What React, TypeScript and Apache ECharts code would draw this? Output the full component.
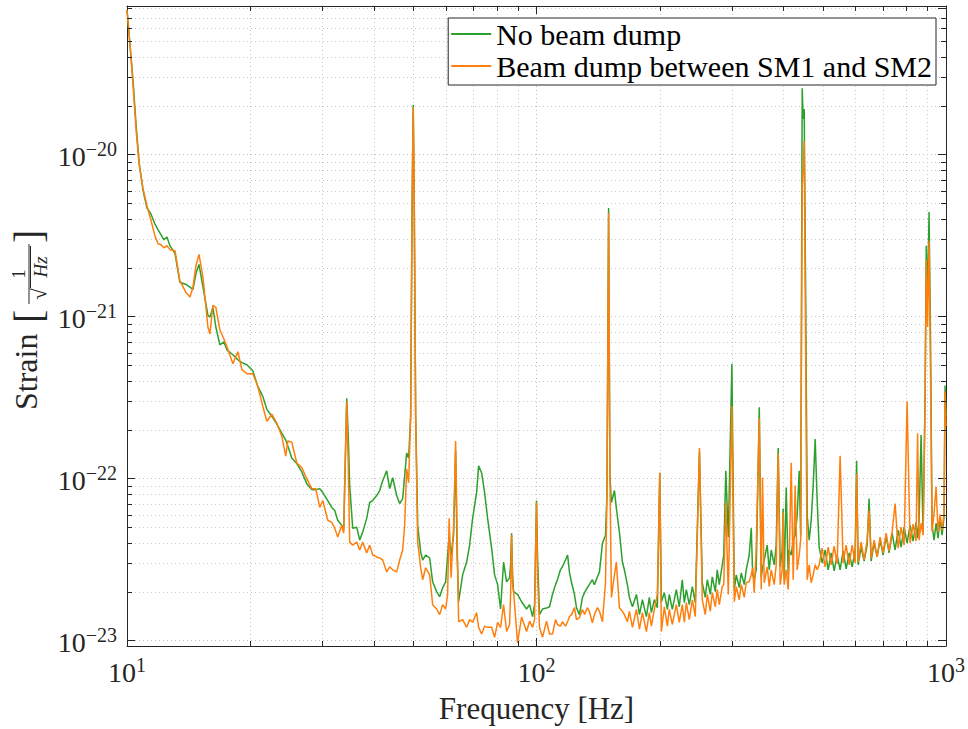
import { useEffect, useRef } from "react";
import * as echarts from "echarts";

// Strain amplitude spectral density, values in units of 1e-23 / sqrt(Hz)
const STRAIN_UNIT = 1e-23;

const freqs = [
  // 10 - 35 Hz
  10.0, 10.17, 10.34, 10.52, 10.7, 10.94, 11.19, 11.44, 11.7, 11.91,
  12.11, 12.31, 12.52, 12.73, 13.1, 13.46, 13.93, 14.25, 14.49, 14.74,
  14.99, 15.33, 15.76, 15.94, 16.21, 16.48, 16.86, 17.24, 17.54, 18.14,
  18.65, 19.08, 19.62, 20.29, 20.87, 21.46, 21.95, 22.57, 23.22, 23.88,
  24.42, 24.7, 25.26, 25.98, 26.72, 27.48, 28.26, 28.9, 29.56, 30.07,
  30.92, 31.62, 32.16, 32.7, 33.45, 33.82, 34.1, 34.4, 34.7, 34.98,
  35.58,
  // 36 - 106 Hz
  36.39, 37.01, 37.64, 38.49, 39.14, 39.81, 40.72, 41.41, 42.11, 43.07,
  43.8, 44.55, 45.56, 46.33, 47.12, 47.65, 48.19, 48.73, 49.28, 49.7,
  50.0, 50.28, 50.69, 51.27, 52.14, 52.73, 53.62, 54.84, 55.77, 57.04,
  58.01, 58.99, 60.0, 60.67, 61.19, 61.87, 62.75, 63.46, 64.0, 64.54,
  66.01, 67.51, 68.66, 69.82, 71.41, 72.22, 73.44, 74.69, 75.97, 77.69,
  79.01, 80.35, 81.71, 83.1, 84.52, 85.96, 86.44, 86.93, 87.42, 87.91,
  89.9, 91.94, 94.57, 96.18, 97.81, 98.91, 99.44, 100.0, 100.56, 101.7,
  103.43, 105.8,
  // 107 - 1000 Hz
  107.6, 109.4, 111.3, 112.5, 114.4, 115.7, 117.7, 119.1, 120.4, 121.8,
  123.8, 125.2, 127.3, 129.5, 131.0, 133.1, 134.6, 136.9, 138.5, 140.9,
  142.5, 144.9, 147.4, 148.6, 150.0, 151.1, 152.4, 155.0, 156.7, 158.0,
  159.4, 162.1, 163.9, 166.7, 168.6, 171.5, 175.4, 178.4, 181.4, 185.5,
  188.6, 190.8, 194.0, 197.3, 200.0, 201.8, 205.2, 208.7, 211.0, 214.6,
  219.5, 223.2, 227.0, 229.6, 232.2, 236.1, 240.2, 244.2, 250.0, 254.0,
  258.3, 261.3, 265.7, 268.7, 273.3, 276.3, 279.5, 284.2, 286.6, 289.9,
  294.0, 300.0, 304.1, 307.5, 312.7, 316.3, 321.6, 325.2, 330.7, 334.5,
  337.3, 340.1, 344.0, 350.0, 353.8, 356.4, 359.8, 365.9, 370.1, 374.3,
  380.6, 384.9, 389.2, 393.6, 398.1, 400.3, 402.6, 407.2, 411.8, 414.1,
  418.8, 423.5, 428.3, 433.1, 438.0, 441.7, 445.5, 448.0, 450.5, 454.3,
  458.2, 463.3, 468.6, 473.9, 479.2, 484.6, 490.1, 498.4, 506.9, 515.6,
  524.3, 533.2, 542.2, 551.4, 560.8, 570.4, 580.1, 589.9, 600.0, 605.0,
  610.1, 620.5, 631.0, 641.8, 649.0, 656.4, 667.5, 678.9, 690.4, 702.1,
  714.1, 726.2, 738.6, 751.1, 763.9, 776.9, 790.1, 803.5, 817.1, 831.0,
  845.2, 852.4, 859.6, 869.3, 879.1, 889.0, 895.0, 901.6, 909.2, 916.9,
  924.6, 935.1, 945.7, 956.4, 967.2, 978.1, 989.1, 994.7, 1000.0,
];

const noBeamDump = [
  7800, 4780, 2910, 1550, 906, 602, 468, 430, 373, 343,
  320, 298, 310, 274, 245, 163, 158, 152, 147, 185,
  210, 152, 102, 99.3, 114, 86.3, 66.9, 69.8, 62.4, 58.2,
  54.2, 52, 50.5, 46.4, 37.1, 32.2, 26.8, 24.3, 21.7, 19.1,
  17.3, 15.9, 13.4, 12.4, 11.0, 9.32, 8.56, 8.56, 8.68, 8.21,
  7.33, 6.65, 6.37, 5.54, 5.16, 4.81, 12.0, 31.3, 18.3, 9.06,
  4.95,
  5.02, 4.18, 4.68, 5.69, 7.13, 7.33, 7.87, 8.45, 9.72, 11.19,
  8.68, 10.14, 7.87, 7.03, 7.54, 10.43, 14.42, 13.4, 24.3, 538,
  2023, 538, 24.3, 5.16, 3.53, 3.15, 3.38, 3.24, 2.31, 2.01,
  1.87, 2.12, 2.31, 3.38, 4.48, 3.38, 4.48, 14.84, 3.38, 1.74,
  2.55, 3.06, 3.89, 5.69, 8.21, 12.0, 10.88, 8.21, 5.69, 3.73,
  2.55, 2.22, 1.57, 3.06, 2.31, 2.45, 2.94, 4.61, 2.55, 2.01,
  1.93, 1.74, 1.57, 1.67, 1.41, 1.67, 3.38, 7.33, 3.38, 1.45,
  1.57, 1.59,
  1.62, 1.93, 2.22, 2.38, 2.74, 2.86, 3.15, 3.38, 2.63, 2.28,
  1.93, 1.6, 1.45, 1.85, 1.98, 2.13, 2.22, 2.38, 2.22, 2.48,
  2.66, 4.0, 4.48, 7.87, 468, 10.43, 7.13, 8.45, 6.55, 5.54,
  4.68, 3.06, 2.74, 2.22, 1.85, 1.62, 1.93, 1.45, 1.79, 1.41,
  1.85, 1.49, 1.79, 1.6, 10.88, 1.74, 1.98, 1.56, 1.93, 1.56,
  2.07, 1.62, 2.38, 1.72, 2.07, 1.67, 2.16, 1.72, 14.63, 2.28,
  1.85, 2.38, 1.93, 2.48, 2.01, 2.74, 2.22, 2.94, 3.38, 11.19,
  4.36, 51.2, 2.07, 2.55, 2.13, 2.62, 2.22, 2.74, 3.38, 4.95,
  2.55, 2.38, 2.74, 27.6, 2.45, 2.82, 3.15, 3.89, 2.74, 3.63,
  2.94, 3.89, 15.48, 2.86, 3.63, 6.55, 2.38, 8.81, 2.55, 3.63,
  3.38, 4.18, 4.48, 5.94, 11.19, 4.48, 2565, 1660, 1910, 132,
  5.94, 4.18, 5.54, 9.06, 17.57, 7.33, 3.78, 3.02, 3.63, 2.74,
  3.48, 2.7, 3.38, 2.74, 3.58, 2.78, 3.48, 2.86, 3.63, 12.88,
  2.94, 3.78, 3.1, 3.89, 7.54, 3.1, 4.0, 3.29, 4.18, 3.38,
  4.42, 3.48, 4.61, 3.63, 4.81, 3.78, 5.02, 4.0, 5.16, 4.12,
  5.38, 4.3, 5.54, 18.58, 4.61, 32.2, 273.7, 132, 441.9, 65.1,
  5.16, 4.18, 5.31, 4.3, 5.69, 4.48, 5.78, 37.6, 24.3,
];

const beamDumpSM1SM2 = [
  7800, 4780, 2720, 1440, 880, 620, 481, 394, 315, 282,
  278, 266, 274, 259, 255, 167, 141, 132, 152, 207,
  242, 175, 86.3, 78.2, 117.6, 114, 82.7, 73, 65.1, 51.2,
  60.7, 47.1, 44.5, 44.5, 37.1, 28.0, 22.6, 25.0, 22.0, 18.3,
  13.8, 17.1, 16.8, 12.5, 11.7, 10.0, 8.68, 8.68, 6.65, 7.33,
  5.54, 5.38, 4.95, 4.36, 5.16, 4.61, 12.0, 30.0, 12.0, 4.06,
  3.89,
  4.06, 3.63, 4.06, 3.48, 3.89, 3.38, 3.29, 3.24, 3.15, 2.66,
  2.86, 2.74, 2.66, 3.15, 3.63, 5.16, 11.51, 9.45, 24.3, 538,
  1967, 538, 24.3, 4.06, 2.82, 2.38, 2.82, 2.55, 1.67, 1.57,
  1.45, 1.67, 1.57, 1.93, 5.69, 2.45, 5.16, 17.08, 4.48, 1.31,
  1.35, 1.21, 1.35, 1.3, 1.49, 1.21, 1.1, 1.23, 1.21, 1.21,
  1.05, 1.3, 1.21, 1.67, 1.14, 1.26, 1.93, 4.48, 2.22, 2.01,
  0.97, 1.4, 1.14, 1.32, 1.21, 1.35, 3.38, 7.13, 2.55, 1.21,
  1.05, 1.32,
  1.1, 1.1, 1.35, 1.26, 1.23, 1.31, 1.23, 1.31, 1.41, 1.45,
  1.6, 1.35, 1.39, 1.56, 1.45, 1.6, 1.52, 1.29, 1.45, 1.6,
  1.52, 1.31, 2.28, 7.87, 436, 10.43, 1.85, 2.55, 3.06, 2.22,
  1.6, 1.52, 1.45, 1.31, 1.52, 1.21, 1.56, 1.18, 1.49, 1.14,
  1.49, 1.23, 1.56, 1.93, 10.88, 1.14, 1.62, 1.23, 1.56, 1.26,
  1.67, 1.3, 1.67, 1.3, 1.72, 1.35, 1.79, 1.41, 15.48, 1.79,
  1.45, 1.93, 1.52, 1.98, 1.62, 2.07, 1.67, 2.16, 2.22, 7.13,
  1.93, 28.0, 1.74, 2.16, 1.79, 2.22, 1.85, 2.28, 2.31, 2.55,
  2.82, 1.98, 3.73, 23.6, 2.07, 10.14, 2.28, 2.86, 2.16, 2.74,
  2.22, 2.94, 14.23, 2.22, 2.74, 6.19, 2.22, 2.74, 2.07, 3.15,
  12.53, 2.38, 9.06, 2.74, 3.38, 4.18, 637, 822, 1218, 56.5,
  2.38, 2.94, 2.28, 2.55, 2.94, 2.74, 2.94, 3.73, 2.86, 3.78,
  2.94, 3.84, 2.98, 13.83, 3.02, 3.89, 2.94, 3.89, 3.02, 10.73,
  3.06, 4.06, 3.15, 4.18, 6.37, 3.24, 4.18, 3.29, 4.36, 3.48,
  4.61, 3.58, 4.71, 7.03, 3.73, 5.02, 3.89, 30.0, 4.0, 5.24,
  4.12, 19.1, 4.18, 5.31, 4.48, 28.0, 224.7, 86.3, 293.8, 42.7,
  4.71, 6.12, 8.93, 4.67, 6.03, 4.81, 6.12, 34.5, 21.1,
];

const seriesNames = ["No beam dump", "Beam dump between SM1 and SM2"];
const seriesColors = ["#2ca02c", "#ff7f0e"];

const X_MIN = 10;
const X_MAX = 1000;
const Y_MIN = 9.28e-24;
const Y_MAX = 8.26e-20;

const xMinorTicks = [20, 30, 40, 50, 60, 70, 80, 90, 200, 300, 400, 500, 600, 700, 800, 900];
const yMinorTicks = [
  2e-23, 3e-23, 4e-23, 5e-23, 6e-23, 7e-23, 8e-23, 9e-23,
  2e-22, 3e-22, 4e-22, 5e-22, 6e-22, 7e-22, 8e-22, 9e-22,
  2e-21, 3e-21, 4e-21, 5e-21, 6e-21, 7e-21, 8e-21, 9e-21,
  2e-20, 3e-20, 4e-20, 5e-20, 6e-20, 7e-20, 8e-20,
];

const FONT = "'Liberation Serif', 'Times New Roman', Times, serif";
const INK = "#262626";

const powLabel = (v: number) => {
  const e = Math.round(Math.log10(v));
  const s = e < 0 ? "\u2212" + -e : String(e);
  return `{b|10}{s|${s}}`;
};

const labelRich = {
  b: { fontFamily: FONT, fontSize: 28, lineHeight: 31, color: INK, verticalAlign: "bottom" },
  s: { fontFamily: FONT, fontSize: 20, lineHeight: 20, color: INK, verticalAlign: "top" },
};

export default function App() {
  const ref = useRef<HTMLDivElement>(null);

  useEffect(() => {
    if (!ref.current) return;
    const chart = echarts.init(ref.current, undefined, { renderer: "svg" });
    const n = Math.min(freqs.length, noBeamDump.length, beamDumpSM1SM2.length);
    const dataA: number[][] = [];
    const dataB: number[][] = [];
    for (let i = 0; i < n; i++) {
      dataA.push([freqs[i], noBeamDump[i] * STRAIN_UNIT]);
      dataB.push([freqs[i], beamDumpSM1SM2[i] * STRAIN_UNIT]);
    }

    const gridLine = { show: true, lineStyle: { color: "#bdbdbd", width: 1, type: [1, 3] } };
    const frameLine = { show: true, onZero: false, lineStyle: { color: INK, width: 1 } };
    const tick = { show: true, inside: true, length: 8, lineStyle: { color: INK, width: 1 } };

    const option: any = {
      animation: false,
      backgroundColor: "#ffffff",
      grid: { left: 127, right: 21, top: 6, bottom: 77, containLabel: false },
      legend: {
        data: seriesNames,
        orient: "vertical",
        right: 32,
        top: 18,
        icon: "rect",
        itemWidth: 40,
        itemHeight: 2,
        itemGap: 2,
        padding: [1, 4, 4, 3],
        backgroundColor: "#ffffff",
        borderColor: INK,
        borderWidth: 1,
        borderRadius: 0,
        textStyle: { fontFamily: FONT, fontSize: 30, color: "#000000" },
        selectedMode: false,
      },
      xAxis: [
        {
          type: "log",
          logBase: 10,
          min: X_MIN,
          max: X_MAX,
          position: "bottom",
          axisLine: frameLine,
          axisTick: tick,
          splitLine: gridLine,
          axisLabel: { formatter: powLabel, rich: labelRich, margin: 9, color: INK },
          name: "Frequency [Hz]",
          nameLocation: "middle",
          nameGap: 47,
          nameTextStyle: { fontFamily: FONT, fontSize: 31, color: INK, verticalAlign: "top" },
        },
        {
          type: "log",
          logBase: 10,
          min: X_MIN,
          max: X_MAX,
          position: "top",
          axisLine: frameLine,
          axisTick: tick,
          splitLine: { show: false },
          axisLabel: { show: false },
        },
      ],
      yAxis: [
        {
          type: "log",
          logBase: 10,
          min: Y_MIN,
          max: Y_MAX,
          position: "left",
          axisLine: frameLine,
          axisTick: tick,
          splitLine: gridLine,
          axisLabel: {
            formatter: powLabel,
            rich: labelRich,
            margin: 10,
            color: INK,
            showMinLabel: false,
            showMaxLabel: false,
          },
        },
        {
          type: "log",
          logBase: 10,
          min: Y_MIN,
          max: Y_MAX,
          position: "right",
          axisLine: frameLine,
          axisTick: tick,
          splitLine: { show: false },
          axisLabel: { show: false },
        },
      ],
      series: [
        {
          name: seriesNames[0],
          type: "line",
          data: dataA,
          xAxisIndex: 0,
          yAxisIndex: 0,
          showSymbol: false,
          symbol: "none",
          silent: true,
          clip: true,
          z: 2,
          color: seriesColors[0],
          lineStyle: { color: seriesColors[0], width: 1.5 },
        },
        {
          name: seriesNames[1],
          type: "line",
          data: dataB,
          xAxisIndex: 0,
          yAxisIndex: 0,
          showSymbol: false,
          symbol: "none",
          silent: true,
          clip: true,
          z: 3,
          color: seriesColors[1],
          lineStyle: { color: seriesColors[1], width: 1.5 },
        },
      ],
    };
    chart.setOption(option);

    // Minor grid lines / ticks placed with the library's own coordinate conversion
    const toPx = (x: number, y: number) =>
      chart.convertToPixel({ xAxisIndex: 0, yAxisIndex: 0 }, [x, y]) as number[];
    const [plotL, plotB] = toPx(X_MIN, Y_MIN);
    const [plotR, plotT] = toPx(X_MAX, Y_MAX);
    const els: any[] = [];
    const seg = (x1: number, y1: number, x2: number, y2: number, stroke: string, dash?: number[], z = 1) => ({
      type: "line",
      silent: true,
      z,
      shape: { x1, y1, x2, y2 },
      style: { stroke, lineWidth: 1, lineDash: dash },
    });
    const minorLen = 5;
    xMinorTicks.forEach((f) => {
      const px = Math.round(toPx(f, 1e-22)[0]) + 0.5;
      els.push(seg(px, plotT, px, plotB, "#c8c8c8", [1, 3], 0));
      els.push(seg(px, plotB, px, plotB - minorLen, INK, undefined, 5));
      els.push(seg(px, plotT, px, plotT + minorLen, INK, undefined, 5));
    });
    yMinorTicks.forEach((v) => {
      const py = Math.round(toPx(100, v)[1]) + 0.5;
      els.push(seg(plotL, py, plotR, py, "#c8c8c8", [1, 3], 0));
      els.push(seg(plotL, py, plotL + minorLen, py, INK, undefined, 5));
      els.push(seg(plotR, py, plotR - minorLen, py, INK, undefined, 5));
    });

    // y-axis title: Strain [ 1 / sqrt(Hz) ]
    const txt = (x: number, y: number, text: string, size: number, align: string, italic = false) => ({
      type: "text",
      x,
      y,
      silent: true,
      style: {
        text,
        fontFamily: FONT,
        fontSize: size,
        fontStyle: italic ? "italic" : "normal",
        fill: INK,
        align,
        verticalAlign: "middle",
        textAlign: align,
        textVerticalAlign: "middle",
      },
    });
    els.push({
      type: "group",
      x: 29,
      y: 330,
      rotation: Math.PI / 2,
      z: 10,
      children: [
        txt(-80, -3, "Strain", 32, "left"),
        txt(7, -1, "[", 40, "left"),
        txt(56, -10, "1", 18, "center"),
        seg(26, 0, 86, 0, INK, undefined, 10),
        txt(36, 10, "\u221A", 21, "center"),
        seg(42, 1.5, 84, 1.5, INK, undefined, 10),
        txt(63, 11, "Hz", 19, "center", true),
        txt(87, -1, "]", 40, "left"),
      ],
    });

    chart.setOption({ graphic: { elements: els } });

    return () => {
      chart.dispose();
    };
  }, []);

  return (
    <div
      ref={ref}
      style={{ position: "fixed", left: 0, top: 0, width: 968, height: 729, background: "#ffffff" }}
    />
  );
}
